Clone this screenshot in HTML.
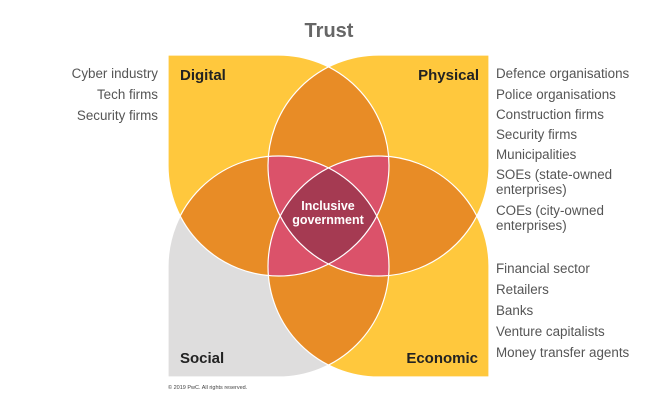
<!DOCTYPE html>
<html><head><meta charset="utf-8"><style>
body{margin:0;background:#fff;width:655px;height:412px;overflow:hidden;font-family:"Liberation Sans",sans-serif}
</style></head><body>
<svg width="655" height="412" viewBox="0 0 655 412" xmlns="http://www.w3.org/2000/svg" font-family="Liberation Sans, sans-serif">
<defs>
<path id="D" d="M168,55 L278.5,55 A110.5,110.5 0 1 1 168,166 Z"/>
<path id="P" d="M489,55 L489,166 A110.5,110.5 0 1 1 378.5,55 Z"/>
<path id="E" d="M489,377 L378.5,377 A110.5,110.5 0 1 1 489,266 Z"/>
<path id="S" d="M168,377 L168,266 A110.5,110.5 0 1 1 278.5,377 Z"/>
<clipPath id="cD"><use href="#D"/></clipPath>
<clipPath id="cP"><use href="#P"/></clipPath>
<clipPath id="cE"><use href="#E"/></clipPath>
<clipPath id="cS"><use href="#S"/></clipPath>
</defs>
<use href="#D" fill="#FFC83D"/>
<use href="#P" fill="#FFC83D"/>
<use href="#E" fill="#FFC83D"/>
<use href="#S" fill="#DEDDDD"/>
<g fill="#E88C26">
<use href="#D" clip-path="url(#cP)"/>
<use href="#D" clip-path="url(#cS)"/>
<use href="#D" clip-path="url(#cE)"/>
<use href="#P" clip-path="url(#cE)"/>
<use href="#P" clip-path="url(#cS)"/>
<use href="#E" clip-path="url(#cS)"/>
</g>
<g fill="#DB526A">
<g clip-path="url(#cP)"><use href="#D" clip-path="url(#cS)"/></g>
<g clip-path="url(#cP)"><use href="#D" clip-path="url(#cE)"/></g>
<g clip-path="url(#cS)"><use href="#D" clip-path="url(#cE)"/></g>
<g clip-path="url(#cS)"><use href="#P" clip-path="url(#cE)"/></g>
</g>
<g clip-path="url(#cP)"><g clip-path="url(#cS)"><use href="#D" fill="#A53A52" clip-path="url(#cE)"/></g></g>
<g fill="none" stroke="#fff" stroke-width="1.2">
<use href="#D"/><use href="#P"/><use href="#E"/><use href="#S"/>
</g>
<text x="329" y="37" text-anchor="middle" font-size="20" font-weight="bold" fill="#666">Trust</text>
<g font-size="15" font-weight="bold" fill="#222">
<text x="180" y="80">Digital</text>
<text x="479" y="80" text-anchor="end">Physical</text>
<text x="180" y="363">Social</text>
<text x="478" y="363" text-anchor="end">Economic</text>
</g>
<g font-size="12.5" font-weight="bold" fill="#fff" text-anchor="middle">
<text x="328" y="210">Inclusive</text>
<text x="328" y="224">government</text>
</g>
<g font-size="13.4" fill="#555" text-anchor="end">
<text x="158" y="78">Cyber industry</text>
<text x="158" y="99">Tech firms</text>
<text x="158" y="120">Security firms</text>
</g>
<g font-size="13.4" fill="#555">
<text x="496" y="78">Defence organisations</text>
<text x="496" y="99">Police organisations</text>
<text x="496" y="119">Construction firms</text>
<text x="496" y="139">Security firms</text>
<text x="496" y="159">Municipalities</text>
<text x="496" y="179">SOEs (state-owned</text>
<text x="496" y="194">enterprises)</text>
<text x="496" y="215">COEs (city-owned</text>
<text x="496" y="230">enterprises)</text>
<text x="496" y="273">Financial sector</text>
<text x="496" y="294">Retailers</text>
<text x="496" y="315">Banks</text>
<text x="496" y="336">Venture capitalists</text>
<text x="496" y="357">Money transfer agents</text>
</g>
<text x="168" y="389" font-size="5.5" fill="#444">© 2019 PwC. All rights reserved.</text>
</svg>
</body></html>
